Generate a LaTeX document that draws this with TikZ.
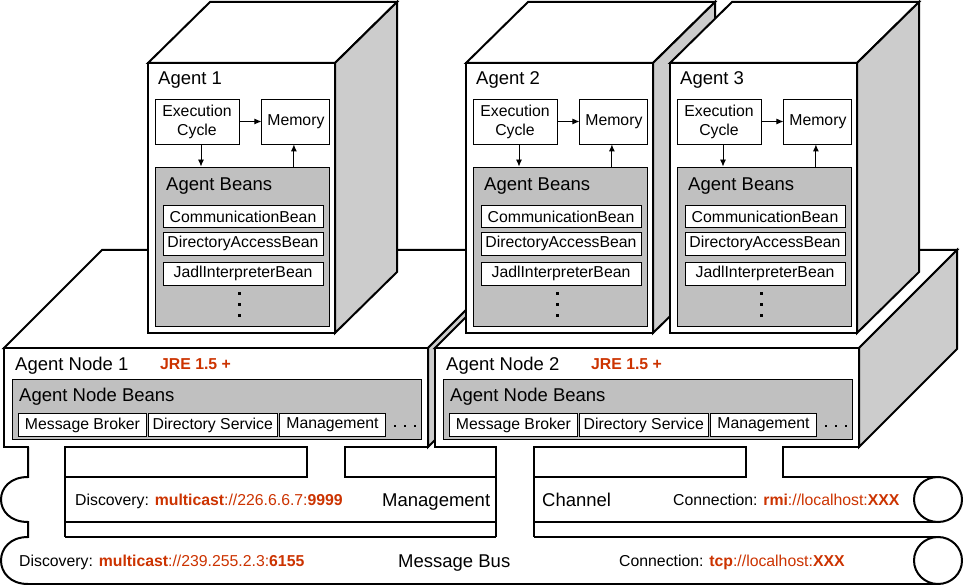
\documentclass[tikz,border=0pt]{standalone}
\usepackage{fontspec}
\setmainfont{Liberation Sans}
\usetikzlibrary{positioning, arrows.meta}
\definecolor{jred}{RGB}{204,51,0}
\definecolor{beangray}{RGB}{192,192,192}
\definecolor{sidegray}{RGB}{204,204,204}

\begin{document}
\begin{tikzpicture}[x=1pt,y=-1pt,
  outer/.style={draw,line width=2pt,fill=white},
  side/.style={outer,fill=sidegray},
  pipe/.style={line width=2pt},
  box/.style={draw,line width=0.9pt,fill=white,inner sep=0pt,font=\fontsize{15.8}{19}\selectfont},
  beanbox/.style={draw,line width=0.9pt,fill=beangray,inner sep=0pt},
  head/.style={inner sep=0pt,anchor=base west,font=\fontsize{18.5}{22}\selectfont},
  txt/.style={inner sep=0pt,anchor=base west,font=\fontsize{15.8}{19}\selectfont},
  jre/.style={txt,text=jred,font=\fontsize{15.8}{19}\selectfont\bfseries},
  arr/.style={-{Latex[length=7pt,width=6pt]},line width=0.9pt}]
\useasboundingbox (0,0) rectangle (963,585);
\fill[white] (0,0) rectangle (963,585);

% Agent Node 1
\draw[outer] (4,348) -- (102,250) -- (526,250) -- (428,348) -- cycle;
\draw[side] (428,348) -- (526,250) -- (526,349) -- (428,447) -- cycle;
\draw[outer] (4,348) rectangle (428,447);
\node[head] (node1) at (15,370) {Agent Node 1};
\node[jre] (jre1) at (160,369) {JRE 1.5 +};
\node[beanbox,minimum width=409pt,minimum height=60pt] (nbeans1) at (216.5,409) {};
\node[head] (nbeanlbl1) at (19,401) {Agent Node Beans};
\node[box,minimum width=128.4pt,minimum height=23.4pt] (broker1) at (82.5,425) {Message Broker};
\node[box,minimum width=129pt,minimum height=23.4pt] (dirsrv1) at (212.8,425) {Directory Service};
\node[box,minimum width=106.4pt,minimum height=23.4pt] (mgmt1) at (332.5,425) {Management};
\foreach \x in {395,405,415} \fill (\x-1.3,424.7) rectangle (\x+1.3,427.3);

% Agent Node 2
\begin{scope}[xshift=431pt]
\draw[outer] (4,348) -- (102,250) -- (526,250) -- (428,348) -- cycle;
\draw[side] (428,348) -- (526,250) -- (526,349) -- (428,447) -- cycle;
\draw[outer] (4,348) rectangle (428,447);
\node[head] (node2) at (15,370) {Agent Node 2};
\node[jre] (jre2) at (160,369) {JRE 1.5 +};
\node[beanbox,minimum width=409pt,minimum height=60pt] (nbeans2) at (216.5,409) {};
\node[head] (nbeanlbl2) at (19,401) {Agent Node Beans};
\node[box,minimum width=128.4pt,minimum height=23.4pt] (broker2) at (82.5,425) {Message Broker};
\node[box,minimum width=129pt,minimum height=23.4pt] (dirsrv2) at (212.8,425) {Directory Service};
\node[box,minimum width=106.4pt,minimum height=23.4pt] (mgmt2) at (332.5,425) {Management};
\foreach \x in {395,405,415} \fill (\x-1.3,424.7) rectangle (\x+1.3,427.3);
\end{scope}

% Agent 1
\draw[outer] (148,63) -- (210,2) -- (397,2) -- (335,63) -- cycle;
\draw[side] (335,63) -- (397,2) -- (397,272) -- (335,333) -- cycle;
\draw[outer] (148,63) rectangle (335,333);
\node[head] (agent1) at (158,85) {Agent 1};
\node[box,align=center,minimum width=84pt,minimum height=45pt] (ec1) at (197,121.5) {Execution\\Cycle};
\node[box,minimum width=68pt,minimum height=45pt,right=22pt of ec1] (mem1) {Memory};
\node[beanbox,minimum width=174pt,minimum height=159pt] (beans1) at (242,246.5) {};
\node[head] (beanlbl1) at (166,190.5) {Agent Beans};
\node[box,minimum width=160pt,minimum height=21.5pt] (comm1) at (243,216.5) {CommunicationBean};
\node[box,minimum width=160pt,minimum height=23pt] (diracc1) at (243,243.8) {DirectoryAccessBean};
\node[box,minimum width=160pt,minimum height=23pt] (jadl1) at (243,273.8) {JadlInterpreterBean};
\foreach \y in {293,304,315} \fill (237.5,\y-1.5) rectangle (240.5,\y+1.5);
\draw[arr] (ec1) -- (mem1);
\draw[arr] ([xshift=4pt]ec1.south) -- ([xshift=4pt]ec1.south |- beans1.north);
\draw[arr] ([xshift=-2pt]beans1.north -| mem1.south) -- ([xshift=-2pt]mem1.south);

% Agent 2
\begin{scope}[xshift=318pt]
\draw[outer] (148,63) -- (210,2) -- (397,2) -- (335,63) -- cycle;
\draw[side] (335,63) -- (397,2) -- (397,272) -- (335,333) -- cycle;
\draw[outer] (148,63) rectangle (335,333);
\node[head] (agent2) at (158,85) {Agent 2};
\node[box,align=center,minimum width=84pt,minimum height=45pt] (ec2) at (197,121.5) {Execution\\Cycle};
\node[box,minimum width=68pt,minimum height=45pt,right=22pt of ec2] (mem2) {Memory};
\node[beanbox,minimum width=174pt,minimum height=159pt] (beans2) at (242,246.5) {};
\node[head] (beanlbl2) at (166,190.5) {Agent Beans};
\node[box,minimum width=160pt,minimum height=21.5pt] (comm2) at (243,216.5) {CommunicationBean};
\node[box,minimum width=160pt,minimum height=23pt] (diracc2) at (243,243.8) {DirectoryAccessBean};
\node[box,minimum width=160pt,minimum height=23pt] (jadl2) at (243,273.8) {JadlInterpreterBean};
\foreach \y in {293,304,315} \fill (237.5,\y-1.5) rectangle (240.5,\y+1.5);
\draw[arr] (ec2) -- (mem2);
\draw[arr] ([xshift=4pt]ec2.south) -- ([xshift=4pt]ec2.south |- beans2.north);
\draw[arr] ([xshift=-2pt]beans2.north -| mem2.south) -- ([xshift=-2pt]mem2.south);
\end{scope}

% Agent 3
\begin{scope}[xshift=522pt]
\draw[outer] (148,63) -- (210,2) -- (397,2) -- (335,63) -- cycle;
\draw[side] (335,63) -- (397,2) -- (397,272) -- (335,333) -- cycle;
\draw[outer] (148,63) rectangle (335,333);
\node[head] (agent3) at (158,85) {Agent 3};
\node[box,align=center,minimum width=84pt,minimum height=45pt] (ec3) at (197,121.5) {Execution\\Cycle};
\node[box,minimum width=68pt,minimum height=45pt,right=22pt of ec3] (mem3) {Memory};
\node[beanbox,minimum width=174pt,minimum height=159pt] (beans3) at (242,246.5) {};
\node[head] (beanlbl3) at (166,190.5) {Agent Beans};
\node[box,minimum width=160pt,minimum height=21.5pt] (comm3) at (243,216.5) {CommunicationBean};
\node[box,minimum width=160pt,minimum height=23pt] (diracc3) at (243,243.8) {DirectoryAccessBean};
\node[box,minimum width=160pt,minimum height=23pt] (jadl3) at (243,273.8) {JadlInterpreterBean};
\foreach \y in {293,304,315} \fill (237.5,\y-1.5) rectangle (240.5,\y+1.5);
\draw[arr] (ec3) -- (mem3);
\draw[arr] ([xshift=4pt]ec3.south) -- ([xshift=4pt]ec3.south |- beans3.north);
\draw[arr] ([xshift=-2pt]beans3.north -| mem3.south) -- ([xshift=-2pt]mem3.south);
\end{scope}

% stems: open the node bottoms
\fill[white] (29,445.5) rectangle (64,449);
\fill[white] (308,445.5) rectangle (344,449);
\fill[white] (497,445.5) rectangle (533,449);
\fill[white] (747,445.5) rectangle (782,449);

% Management / Channel pipe and Message Bus
\draw[pipe] (28,447) -- (28,477) .. controls (-8,477) and (-8,522) .. (28,522) -- (28,537)
  .. controls (-8,537) and (-8,584) .. (28,584) -- (938,584);
\draw[pipe] (65,447) -- (65,537);
\draw[pipe] (307,447) -- (307,477) -- (65,477);
\draw[pipe] (345,447) -- (345,477) -- (496,477);
\draw[pipe] (65,522) -- (496,522);
\draw[pipe] (65,537) -- (496,537);
\draw[pipe] (496,447) -- (496,537);
\draw[pipe] (534,447) -- (534,537);
\draw[pipe] (746,447) -- (746,477) -- (534,477);
\draw[pipe] (783,447) -- (783,477) -- (938,477);
\draw[pipe] (534,522) -- (938,522);
\draw[pipe] (534,537) -- (938,537);
\draw[pipe,fill=white] (938,499.5) ellipse [x radius=24pt, y radius=22.5pt];
\draw[pipe,fill=white] (938,560.5) ellipse [x radius=24pt, y radius=23.5pt];

\node[txt] (disc1) at (75,505) {Discovery: \textcolor{jred}{\textbf{multicast}://226.6.6.7:\textbf{9999}}};
\node[head] (mgmtlbl) at (382,506.5) {Management};
\node[head] (chanlbl) at (542,506.5) {Channel};
\node[txt] (conn1) at (673,505) {Connection: \textcolor{jred}{\textbf{rmi}://localhost:\textbf{XXX}}};
\node[txt] (disc2) at (19,566) {Discovery: \textcolor{jred}{\textbf{multicast}://239.255.2.3:\textbf{6155}}};
\node[head] (buslbl) at (398,567) {Message Bus};
\node[txt] (conn2) at (619,566) {Connection: \textcolor{jred}{\textbf{tcp}://localhost:\textbf{XXX}}};

\end{tikzpicture}
\end{document}
